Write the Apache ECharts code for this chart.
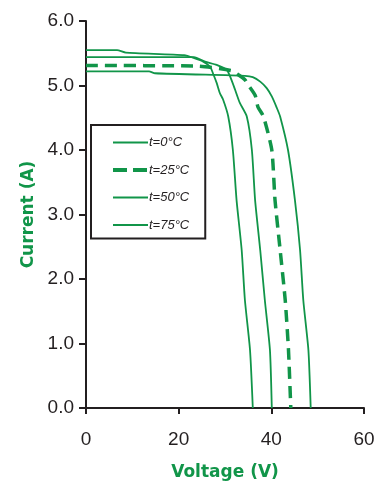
<!DOCTYPE html>
<html>
<head>
<meta charset="utf-8">
<script src="https://cdn.jsdelivr.net/npm/echarts@6/dist/echarts.min.js"></script>
<style>
  html, body { margin: 0; padding: 0; background: #fff; }
  #iv { width: 383px; height: 483px; }
</style>
</head>
<body>
<div id="iv"></div>
<script>
// legend names
var names = ['t=0°C', 't=25°C', 't=50°C', 't=75°C'];

// t = 0°C
var v0 = [0, 13.6, 14.9, 34.3, 36.0, 37.6, 39.0, 40.1, 41.2, 41.9, 43.6, 45.1, 46.2, 46.9, 48.0, 48.5];
var i0 = [5.22, 5.22, 5.19, 5.15, 5.13, 5.06, 4.96, 4.83, 4.65, 4.52, 4.0, 3.22, 2.45, 1.67, 0.90, 0];

// t = 25°C (dashed)
var v25 = [0, 24.2, 31.4, 32.8, 34.3, 35.0, 36.5, 37.1, 38.3, 40.1, 40.8, 41.9, 43.0, 43.7, 44.2];
var i25 = [5.31, 5.30, 5.23, 5.17, 5.09, 5.01, 4.85, 4.67, 4.52, 4.0, 3.22, 2.45, 1.67, 0.90, 0];

// t = 50°C
var v50 = [0, 23.3, 25.7, 28.2, 30.4, 31.1, 32.2, 33.2, 34.7, 35.8, 36.5, 37.6, 38.6, 39.7, 40.1];
var i50 = [5.44, 5.44, 5.37, 5.32, 5.24, 5.14, 4.93, 4.73, 4.52, 4.0, 3.22, 2.45, 1.67, 0.90, 0];

// t = 75°C
var v75 = [0, 6.7, 8.6, 21.2, 23.5, 25.3, 26.8, 27.4, 28.2, 28.9, 29.6, 30.7, 31.7, 32.5, 33.6, 34.3, 35.4, 36.0];
var i75 = [5.55, 5.55, 5.51, 5.47, 5.42, 5.37, 5.29, 5.19, 5.04, 4.88, 4.78, 4.52, 4.0, 3.22, 2.45, 1.67, 0.90, 0];

var green = '#119549';
var dark = '#231f20';

function pairs(v, i) {
    var out = [];
    for (var k = 0; k < v.length; k++) {
        out.push([v[k], i[k]]);
    }
    return out;
}

function curve(name, v, i, dashed) {
    return {
        name: name,
        type: 'line',
        symbol: 'none',
        smooth: 0.2,
        lineStyle: dashed
            ? { color: green, width: 3.5, type: [12, 7] }
            : { color: green, width: 1.8 },
        itemStyle: { color: green },
        data: pairs(v, i)
    };
}

// legend entries, the dashed one needs its own line style
var legendData = names.map(function (n, k) {
    return {
        name: n,
        lineStyle: k === 1
            ? { color: green, width: 4, type: [14, 6] }
            : { color: green, width: 2, type: 'solid' }
    };
});

var chart = echarts.init(document.getElementById('iv'));

var option = {
    animation: false,
    grid: { left: 86, right: 19, top: 21, bottom: 75, outerBoundsMode: 'none' },
    legend: {
        orient: 'vertical',
        left: 91,
        top: 125,
        padding: [11, 16, 7, 20],
        itemWidth: 35,
        itemHeight: 14,
        itemGap: 14.5,
        borderColor: dark,
        borderWidth: 2,
        itemStyle: { opacity: 0 },
        data: legendData,
        textStyle: {
            fontFamily: 'Liberation Sans, Arial, sans-serif',
            fontStyle: 'italic',
            fontSize: 13,
            color: dark,
            padding: [0, 0, 0, -4]
        }
    },
    xAxis: {
        type: 'value',
        min: 0,
        max: 60,
        interval: 20,
        name: 'Voltage (V)',
        nameLocation: 'middle',
        nameGap: 56,
        nameTextStyle: {
            fontFamily: 'DejaVu Sans, sans-serif',
            fontWeight: 'bold',
            fontSize: 17,
            color: green
        },
        splitLine: { show: false },
        axisLine: { lineStyle: { color: dark, width: 2 } },
        axisTick: { length: 6, lineStyle: { color: dark, width: 2 } },
        axisLabel: {
            margin: 22,
            fontFamily: 'Liberation Sans, Arial, sans-serif',
            fontSize: 19,
            color: dark
        }
    },
    yAxis: {
        type: 'value',
        min: 0,
        max: 6,
        interval: 1,
        name: 'Current (A)',
        nameLocation: 'middle',
        nameGap: 44,
        nameTextStyle: {
            fontFamily: 'DejaVu Sans, sans-serif',
            fontWeight: 'bold',
            fontSize: 17,
            color: green
        },
        splitLine: { show: false },
        axisLine: { show: true, lineStyle: { color: dark, width: 2 } },
        axisTick: { show: true, length: 7, lineStyle: { color: dark, width: 2 } },
        axisLabel: {
            margin: 12,
            fontFamily: 'Liberation Sans, Arial, sans-serif',
            fontSize: 19,
            color: dark,
            formatter: function (val) { return val.toFixed(1); }
        }
    },
    series: [
        curve(names[0], v0, i0, false),
        curve(names[1], v25, i25, true),
        curve(names[2], v50, i50, false),
        curve(names[3], v75, i75, false)
    ]
};

chart.setOption(option);
</script>
</body>
</html>
